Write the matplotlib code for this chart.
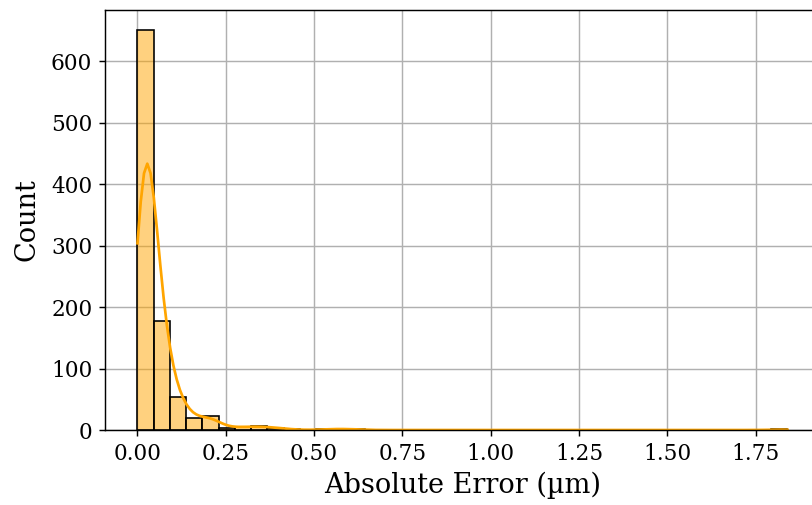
import numpy as np
import matplotlib
matplotlib.use("Agg")
import matplotlib.pyplot as plt
import seaborn as sns

# histogram: 40 equal bins from 0 to the max error
max_error = 1.84
n_bins = 40
counts = [651, 178, 54, 19, 23, 4, 5, 6, 4, 1,
          0, 1, 2, 1, 0, 0, 0, 0, 0, 0,
          0, 0, 0, 0, 0, 0, 0, 0, 0, 0,
          0, 0, 0, 0, 0, 0, 0, 0, 0, 1]

edges = np.linspace(0, max_error, n_bins + 1)
centers = (edges[:-1] + edges[1:]) / 2
errors = np.repeat(centers, counts)

plt.rcParams['font.family'] = 'DejaVu Serif'

dpi = 130
fig = plt.figure(figsize=(812 / dpi, 505 / dpi), dpi=dpi)
ax = fig.add_axes([0.1293, 0.1485, 0.8805, 0.8317])

sns.histplot(errors, bins=edges, kde=True, color='orange', edgecolor='black',
             kde_kws=dict(bw_adjust=1.35, cut=1, clip=(0, max_error)),
             ax=ax)

ax.set_xlabel('Absolute Error (µm)', fontsize=15)
ax.set_ylabel('Count', fontsize=15, labelpad=6)
ax.tick_params(labelsize=12)
ax.grid(True)
ax.set_axisbelow(True)

fig.savefig('out.png', dpi=dpi)
